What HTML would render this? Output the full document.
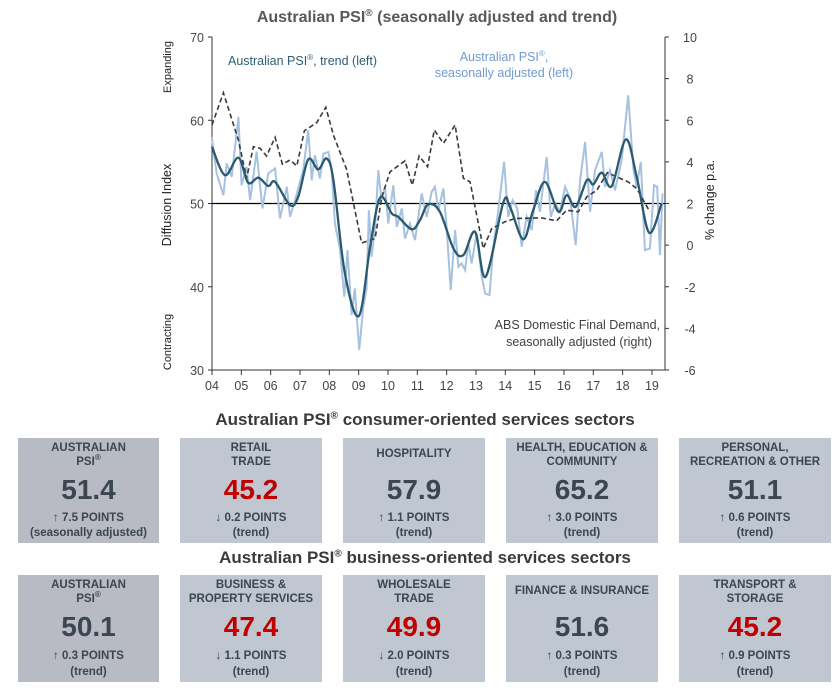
<!DOCTYPE html>
<html><head><meta charset="utf-8"><style>
body{margin:0;width:840px;height:690px;background:#fff;font-family:"Liberation Sans",Arial,sans-serif;position:relative;overflow:hidden}
.box{position:absolute;background:#c0c7d0;color:#3b4650;text-align:center;font-weight:bold}
.box.g{background:#b8bbc3}
.t{position:absolute;left:0;right:0;font-size:11.5px;line-height:14px}
.t sup,.h sup{line-height:0;vertical-align:super}
.n{position:absolute;left:0;right:0;top:37px;font-size:28px;line-height:30px}
.n.red{color:#c00000}
.p{position:absolute;left:0;right:0;top:73px;font-size:11.5px;line-height:14.5px}
.h{position:absolute;left:0;width:850px;text-align:center;font-weight:bold;font-size:17px;color:#3a3a3a}
</style></head><body>
<svg id="chart" width="840" height="400" style="position:absolute;left:0;top:0"></svg>
<div class="h" style="top:410px">Australian PSI<sup style="font-size:10px">®</sup> consumer-oriented services sectors</div>
<div class="h" style="top:548px">Australian PSI<sup style="font-size:10px">®</sup> business-oriented services sectors</div>

<div class="box g" style="left:18px;top:438px;width:141px;height:105px"><div class="t" style="top:3px">AUSTRALIAN<br>PSI<sup style="font-size:8px">®</sup></div><div class="n">51.4</div><div class="p">↑ 7.5 POINTS<br>(seasonally adjusted)</div></div>
<div class="box" style="left:180px;top:438px;width:142px;height:105px"><div class="t" style="top:3px">RETAIL<br>TRADE</div><div class="n red">45.2</div><div class="p">↓ 0.2 POINTS<br>(trend)</div></div>
<div class="box" style="left:343px;top:438px;width:142px;height:105px"><div class="t" style="top:9px">HOSPITALITY</div><div class="n">57.9</div><div class="p">↑ 1.1 POINTS<br>(trend)</div></div>
<div class="box" style="left:506px;top:438px;width:152px;height:105px"><div class="t" style="top:3px">HEALTH, EDUCATION &amp;<br>COMMUNITY</div><div class="n">65.2</div><div class="p">↑ 3.0 POINTS<br>(trend)</div></div>
<div class="box" style="left:679px;top:438px;width:152px;height:105px"><div class="t" style="top:3px">PERSONAL,<br>RECREATION &amp; OTHER</div><div class="n">51.1</div><div class="p">↑ 0.6 POINTS<br>(trend)</div></div>

<div class="box g" style="left:18px;top:575px;width:141px;height:107px"><div class="t" style="top:3px">AUSTRALIAN<br>PSI<sup style="font-size:8px">®</sup></div><div class="n">50.1</div><div class="p" style="line-height:16px">↑ 0.3 POINTS<br>(trend)</div></div>
<div class="box" style="left:180px;top:575px;width:142px;height:107px"><div class="t" style="top:3px">BUSINESS &amp;<br>PROPERTY SERVICES</div><div class="n red">47.4</div><div class="p" style="line-height:16px">↓ 1.1 POINTS<br>(trend)</div></div>
<div class="box" style="left:343px;top:575px;width:142px;height:107px"><div class="t" style="top:3px">WHOLESALE<br>TRADE</div><div class="n red">49.9</div><div class="p" style="line-height:16px">↓ 2.0 POINTS<br>(trend)</div></div>
<div class="box" style="left:506px;top:575px;width:152px;height:107px"><div class="t" style="top:9px">FINANCE &amp; INSURANCE</div><div class="n">51.6</div><div class="p" style="line-height:16px">↑ 0.3 POINTS<br>(trend)</div></div>
<div class="box" style="left:679px;top:575px;width:152px;height:107px"><div class="t" style="top:3px">TRANSPORT &amp;<br>STORAGE</div><div class="n red">45.2</div><div class="p" style="line-height:16px">↑ 0.9 POINTS<br>(trend)</div></div>

<script>
const xTickLabels=["04","05","06","07","08","09","10","11","12","13","14","15","16","17","18","19"];
const leftTicks=[30,40,50,60,70];
const rightTicks=[-6,-4,-2,0,2,4,6,8,10];
const trendDates=[2004.0,2004.44,2004.9,2005.23,2005.58,2005.92,2006.15,2006.66,2006.94,2007.28,2007.62,2007.91,2008.14,2008.53,2009.01,2009.39,2009.73,2010.13,2010.35,2010.81,2011.09,2011.37,2011.77,2012.23,2012.57,2012.97,2013.33,2013.93,2014.16,2014.61,2014.95,2015.35,2015.81,2016.09,2016.4,2016.78,2017.0,2017.29,2017.63,2018.11,2018.48,2018.9,2019.33];
const trendValues=[56.8,53.4,55.5,52.5,53.1,52.1,52.6,49.8,50.8,55.3,54.1,55.4,52.8,41.6,36.5,44.8,50.7,48.8,48.4,46.9,48.0,49.9,49.0,44.6,43.8,46.6,41.2,50.1,49.6,45.7,49.2,52.6,49.0,51.0,49.6,52.8,52.3,53.7,52.1,57.7,53.2,46.5,50.0];
const saDates=[2003.99,2004.16,2004.39,2004.5,2004.67,2004.9,2005.01,2005.18,2005.3,2005.52,2005.72,2005.92,2006.15,2006.32,2006.55,2006.66,2006.83,2007.11,2007.28,2007.4,2007.51,2007.68,2007.8,2007.97,2008.08,2008.19,2008.36,2008.51,2008.62,2008.76,2008.87,2009.02,2009.16,2009.27,2009.35,2009.44,2009.56,2009.67,2009.78,2009.9,2010.01,2010.18,2010.3,2010.47,2010.58,2010.75,2010.92,2011.15,2011.32,2011.49,2011.6,2011.72,2011.89,2012.0,2012.14,2012.29,2012.4,2012.51,2012.63,2012.74,2012.85,2013.02,2013.2,2013.31,2013.46,2013.59,2013.76,2013.96,2014.1,2014.25,2014.41,2014.56,2014.73,2014.9,2015.05,2015.18,2015.41,2015.55,2015.7,2015.86,2016.04,2016.21,2016.4,2016.55,2016.72,2016.89,2017.06,2017.29,2017.4,2017.57,2017.74,2017.97,2018.19,2018.37,2018.48,2018.62,2018.76,2018.93,2019.07,2019.18,2019.27,2019.36];
const saValues=[58.0,53.6,51.0,54.8,53.2,60.4,52.2,54.4,50.4,56.2,49.4,53.6,54.2,48.2,52.0,48.4,50.4,54.0,58.8,52.8,55.8,53.0,56.0,56.2,54.0,47.6,44.6,38.8,44.4,36.6,39.8,32.4,37.6,39.8,49.2,43.6,47.2,54.0,50.4,52.0,47.6,52.2,47.2,49.4,45.8,47.6,45.6,51.2,48.4,51.4,52.0,49.2,51.8,47.2,39.6,46.8,42.4,42.8,42.0,45.2,42.8,46.4,41.2,39.2,39.0,44.8,49.2,55.0,48.4,50.4,49.4,44.8,48.4,46.8,51.6,49.0,55.6,48.4,50.0,49.0,52.0,50.6,45.0,52.8,57.4,49.0,54.0,56.2,52.0,54.0,51.6,55.2,63.0,54.0,52.0,55.0,44.4,44.6,52.2,52.0,43.8,51.2];
const dfdDates=[2004.0,2004.39,2004.9,2005.18,2005.41,2005.64,2005.86,2006.15,2006.4,2006.66,2006.89,2007.15,2007.57,2007.88,2008.14,2008.59,2009.1,2009.56,2009.79,2010.07,2010.58,2010.83,2011.06,2011.35,2011.58,2011.89,2012.29,2012.57,2012.8,2013.25,2013.54,2013.99,2014.33,2015.24,2015.75,2016.09,2016.49,2016.78,2017.12,2017.48,2017.8,2018.19,2018.48,2018.93];
const dfdValues=[5.77,7.32,5.05,3.21,4.73,4.65,4.28,5.18,3.89,4.09,3.8,5.5,5.88,6.62,5.29,3.64,0.1,0.32,2.32,3.52,4.05,2.88,4.28,3.77,5.53,4.89,5.77,3.21,3.04,-0.16,0.8,1.12,1.28,1.31,1.17,1.68,1.6,2.32,2.64,3.48,3.28,3.04,2.72,1.6];

const NS="http://www.w3.org/2000/svg";
const svg=document.getElementById('chart');
const X0=212,X1=665,YT=37,YB=370;
const xs=t=>X0+(t-2004)*29.33;
const yl=v=>YT+(70-v)*(YB-YT)/40;
const yr=v=>YT+(10-v)*(YB-YT)/16;
function mk(tag,attrs,name,text){const e=document.createElementNS(NS,tag);for(const k in attrs)e.setAttribute(k,attrs[k]);


if(text!==undefined)e.textContent=text;svg.appendChild(e);return e;}
function txt(x,y,s,name,o){return mk('text',Object.assign({x:x,y:y,'font-size':12.5,fill:'#444','font-family':'Liberation Sans, Arial, sans-serif'},o||{}),name,s);}
const ti=txt(437,22,'',"chart-title",{'text-anchor':'middle','font-size':16,'font-weight':'bold',fill:'#595959'});
ti.innerHTML='Australian PSI<tspan font-size="10" dy="-6">®</tspan><tspan dy="6"> (seasonally adjusted and trend)</tspan>';
mk('line',{x1:X0,y1:YT,x2:X0,y2:YB,stroke:'#333','stroke-width':1},'left-axis');
mk('line',{x1:X1,y1:YT,x2:X1,y2:YB,stroke:'#333','stroke-width':1},'right-axis');
mk('line',{x1:X0,y1:YB,x2:X1,y2:YB,stroke:'#333','stroke-width':1},'x-axis');
leftTicks.forEach(v=>{mk('line',{x1:X0-4,y1:yl(v),x2:X0,y2:yl(v),stroke:'#333'},'left-tick');txt(X0-8,yl(v)+5,String(v),'left-tick-label',{'text-anchor':'end'});});
rightTicks.forEach(v=>{mk('line',{x1:X1,y1:yr(v),x2:X1+4,y2:yr(v),stroke:'#333'},'right-tick');txt(690,yr(v)+5,String(v),'right-tick-label',{'text-anchor':'middle'});});
xTickLabels.forEach((l,i)=>{const x=xs(2004+i);mk('line',{x1:x,y1:YB,x2:x,y2:YB+5,stroke:'#333'},'x-tick');txt(x,YB+20,l,'x-tick-label',{'text-anchor':'middle'});});
txt(0,0,'Diffusion Index','y-axis-title',{transform:'translate(171,205) rotate(-90)','text-anchor':'middle',fill:'#222'});
txt(0,0,'Expanding','expanding-label',{transform:'translate(171,67) rotate(-90)','text-anchor':'middle','font-size':11,fill:'#222'});
txt(0,0,'Contracting','contracting-label',{transform:'translate(171,342) rotate(-90)','text-anchor':'middle','font-size':11,fill:'#222'});
txt(0,0,'% change p.a.','y2-axis-title',{transform:'translate(714,200) rotate(-90)','text-anchor':'middle',fill:'#222'});
mk('line',{x1:X0,y1:yl(50),x2:X1,y2:yl(50),stroke:'#000','stroke-width':1.2},'fifty-line');
function poly(d,v,f){return d.map((t,i)=>xs(t).toFixed(1)+','+f(v[i]).toFixed(1)).join(' ');}
function smooth(d,v,f){const p=d.map((t,i)=>[xs(t),f(v[i])]);let s='M'+p[0][0]+','+p[0][1];
for(let i=0;i<p.length-1;i++){const a=p[Math.max(0,i-1)],b=p[i],c=p[i+1],e=p[Math.min(p.length-1,i+2)];
s+=' C'+(b[0]+(c[0]-a[0])/6).toFixed(1)+','+(b[1]+(c[1]-a[1])/6).toFixed(1)+' '+(c[0]-(e[0]-b[0])/6).toFixed(1)+','+(c[1]-(e[1]-b[1])/6).toFixed(1)+' '+c[0].toFixed(1)+','+c[1].toFixed(1);}return s;}
mk('polyline',{points:poly(saDates,saValues,yl),fill:'none',stroke:'#a7c1e0','stroke-width':2},'sa-line');
mk('polyline',{points:poly(dfdDates,dfdValues,yr),fill:'none',stroke:'#3a3a3a','stroke-width':1.6,'stroke-dasharray':'5,3'},'dfd-line');
mk('path',{d:smooth(trendDates,trendValues,yl),fill:'none',stroke:'#2b5a6e','stroke-width':2.3},'trend-line');
const a1=txt(228,65,'','trend-label',{fill:'#2e5e73'});a1.innerHTML='Australian PSI<tspan font-size="8" dy="-5">®</tspan><tspan dy="5">, trend (left)</tspan>';
const a2=txt(504,61,'','sa-label-1',{fill:'#6f9ad0','text-anchor':'middle'});a2.innerHTML='Australian PSI<tspan font-size="8" dy="-5">®</tspan><tspan dy="5">,</tspan>';
txt(504,77,'seasonally adjusted (left)','sa-label-2',{fill:'#6f9ad0','text-anchor':'middle'});
txt(660,329,'ABS Domestic Final Demand,','dfd-label-1',{'text-anchor':'end',fill:'#404040'});
txt(652,346,'seasonally adjusted (right)','dfd-label-2',{'text-anchor':'end',fill:'#404040'});
</script>
</body></html>
